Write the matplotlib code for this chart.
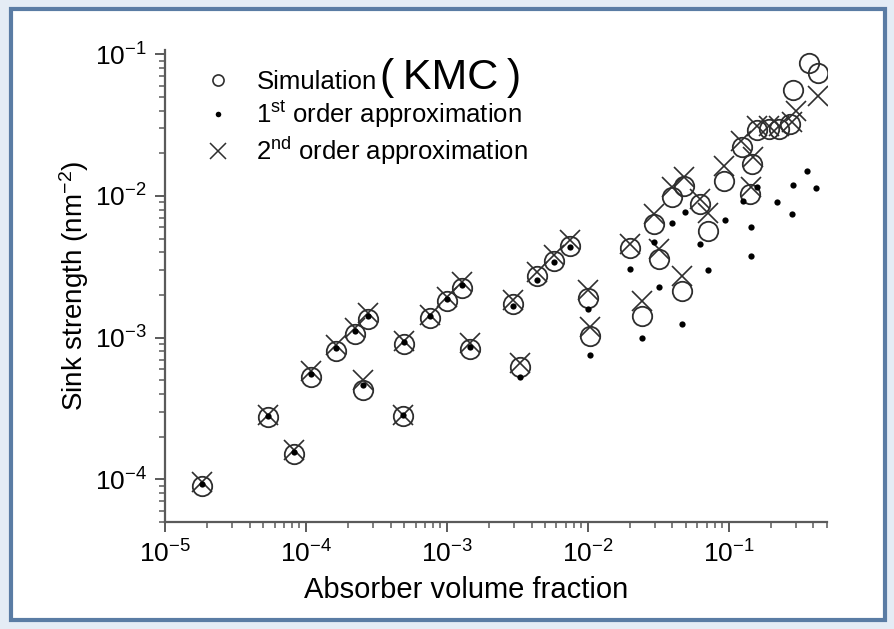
import matplotlib
matplotlib.use("Agg")
import matplotlib.pyplot as plt
from matplotlib.lines import Line2D
from matplotlib.patches import Rectangle
from matplotlib.ticker import LogLocator, NullFormatter, FixedLocator

plt.rcParams['font.family'] = ['Liberation Sans', 'DejaVu Sans']
plt.rcParams['mathtext.fontset'] = 'custom'
plt.rcParams['mathtext.rm'] = 'Liberation Sans'
plt.rcParams['mathtext.it'] = 'Liberation Sans:italic'
plt.rcParams['mathtext.bf'] = 'Liberation Sans:bold'

# Simulation (KMC) results
sim_x = [1.82e-5, 5.4e-5, 8.3e-5, 1.08e-4, 1.63e-4, 2.23e-4, 2.77e-4, 2.55e-4,
         4.95e-4, 4.93e-4, 7.6e-4, 1.01e-3, 1.28e-3, 1.46e-3, 2.95e-3, 3.3e-3,
         4.4e-3, 5.8e-3, 7.5e-3, 1.0e-2, 1.04e-2, 2.0e-2, 2.44e-2, 2.95e-2,
         3.2e-2, 4.0e-2, 4.7e-2, 4.8e-2, 6.3e-2, 7.1e-2, 9.3e-2, 0.125,
         0.147, 0.143, 0.158, 0.194, 0.228, 0.275, 0.288, 0.37, 0.43]
sim_y = [9.0e-5, 2.75e-4, 1.52e-4, 5.3e-4, 8.1e-4, 1.06e-3, 1.36e-3, 4.3e-4,
         9.0e-4, 2.8e-4, 1.37e-3, 1.8e-3, 2.25e-3, 8.3e-4, 1.72e-3, 6.2e-4,
         2.7e-3, 3.5e-3, 4.4e-3, 1.9e-3, 1.02e-3, 4.3e-3, 1.41e-3, 6.3e-3,
         3.56e-3, 9.8e-3, 2.12e-3, 1.18e-2, 8.8e-3, 5.65e-3, 1.28e-2, 0.022,
         0.0168, 0.0103, 0.029, 0.0297, 0.0297, 0.032, 0.0556, 0.086, 0.074]

# First order approximation
first_x = [1.82e-5, 5.4e-5, 8.3e-5, 1.08e-4, 1.63e-4, 2.23e-4, 2.77e-4, 2.55e-4,
           4.95e-4, 4.93e-4, 7.6e-4, 1.01e-3, 1.28e-3, 1.46e-3, 2.95e-3, 3.3e-3,
           4.4e-3, 5.8e-3, 7.5e-3, 1.0e-2, 1.04e-2, 2.0e-2, 2.44e-2, 2.95e-2,
           3.2e-2, 4.0e-2, 4.7e-2, 4.9e-2, 6.3e-2, 7.2e-2, 9.5e-2, 0.127,
           0.145, 0.145, 0.158, 0.221, 0.283, 0.288, 0.363, 0.42]
first_y = [9.2e-5, 2.8e-4, 1.56e-4, 5.5e-4, 8.5e-4, 1.12e-3, 1.42e-3, 4.6e-4,
           9.3e-4, 2.85e-4, 1.42e-3, 1.87e-3, 2.35e-3, 8.6e-4, 1.66e-3, 5.3e-4,
           2.55e-3, 3.4e-3, 4.35e-3, 1.58e-3, 7.5e-4, 3.07e-3, 1.0e-3, 4.7e-3,
           2.26e-3, 6.4e-3, 1.24e-3, 7.7e-3, 4.6e-3, 3.0e-3, 6.8e-3, 9.2e-3,
           6.0e-3, 3.75e-3, 0.0115, 9.0e-3, 7.5e-3, 0.012, 0.015, 0.0113]

# Second order approximation
second_x = [1.82e-5, 5.4e-5, 8.3e-5, 1.08e-4, 1.63e-4, 2.23e-4, 2.77e-4, 2.55e-4,
            4.95e-4, 4.93e-4, 7.6e-4, 1.01e-3, 1.28e-3, 1.46e-3, 2.95e-3, 3.3e-3,
            4.4e-3, 5.8e-3, 7.5e-3, 1.0e-2, 1.04e-2, 2.0e-2, 2.44e-2, 2.95e-2,
            3.2e-2, 4.0e-2, 4.7e-2, 4.8e-2, 6.3e-2, 7.1e-2, 9.3e-2, 0.122,
            0.15, 0.145, 0.158, 0.194, 0.228, 0.28, 0.30, 0.43]
second_y = [9.5e-5, 2.85e-4, 1.6e-4, 5.8e-4, 8.8e-4, 1.16e-3, 1.48e-3, 5.0e-4,
            9.5e-4, 2.85e-4, 1.45e-3, 1.93e-3, 2.45e-3, 9.2e-4, 1.85e-3, 6.6e-4,
            2.9e-3, 3.8e-3, 4.9e-3, 2.15e-3, 1.18e-3, 4.6e-3, 1.8e-3, 7.4e-3,
            4.2e-3, 1.15e-2, 2.7e-3, 1.35e-2, 9.5e-3, 7.6e-3, 1.63e-2, 0.0245,
            0.0187, 0.0115, 0.031, 0.031, 0.031, 0.033, 0.04, 0.051]

x_ticks = [1e-5, 1e-4, 1e-3, 1e-2, 1e-1]
x_tick_labels = [r'$10^{-5}$', r'$10^{-4}$', r'$10^{-3}$', r'$10^{-2}$', r'$10^{-1}$']
y_ticks = [1e-4, 1e-3, 1e-2, 1e-1]
y_tick_labels = [r'$10^{-4}$', r'$10^{-3}$', r'$10^{-2}$', r'$10^{-1}$']

ink = '#2e2e2e'
axis_col = '#5a5a5a'

fig = plt.figure(figsize=(8.95, 6.29), dpi=100)
fig.patch.set_facecolor('#e4ecf5')
frame = Rectangle((11 / 895, 1 - 620 / 629), 874 / 895, 611 / 629,
                  transform=fig.transFigure, facecolor='white',
                  edgecolor='#5a7ca4', linewidth=3, zorder=-10)
fig.patches.append(frame)

ax = fig.add_axes([165 / 895, 1 - 522 / 629, 662 / 895, 472 / 629])
ax.set_facecolor('none')
ax.set_xscale('log')
ax.set_yscale('log')
ax.set_xlim(1e-5, 0.5)
ax.set_ylim(5e-5, 0.107)

ax.plot(sim_x, sim_y, linestyle='none', marker='o', markersize=14,
        markerfacecolor='none', markeredgecolor=ink, markeredgewidth=1.3)
ax.plot(second_x, second_y, linestyle='none', marker='x', markersize=14,
        color=ink, markeredgewidth=1.2)
ax.plot(first_x, first_y, linestyle='none', marker='o', markersize=4.5,
        color='black', markeredgewidth=0)

for side in ('top', 'right'):
    ax.spines[side].set_visible(False)
for side in ('left', 'bottom'):
    ax.spines[side].set_color(axis_col)
    ax.spines[side].set_linewidth(1.6)

ax.xaxis.set_major_locator(FixedLocator(x_ticks))
ax.set_xticklabels(x_tick_labels)
ax.yaxis.set_major_locator(FixedLocator(y_ticks))
ax.set_yticklabels(y_tick_labels)
ax.xaxis.set_minor_locator(LogLocator(base=10, subs=range(2, 10), numticks=20))
ax.yaxis.set_minor_locator(LogLocator(base=10, subs=range(2, 10), numticks=20))
ax.xaxis.set_minor_formatter(NullFormatter())
ax.yaxis.set_minor_formatter(NullFormatter())
ax.tick_params(which='major', direction='out', length=7, width=1.4,
               color=axis_col, labelsize=19, pad=6)
ax.tick_params(which='minor', direction='out', length=4, width=1.1,
               color=axis_col)

ax.set_xlabel('Absorber volume fraction', fontsize=21)
ax.xaxis.set_label_coords(0.455, -0.115)
ax.set_ylabel(r'Sink strength (nm$^{-2}$)', fontsize=20, labelpad=3)

handles = [
    Line2D([], [], linestyle='none', marker='o', markersize=8,
           markerfacecolor='none', markeredgecolor=ink, markeredgewidth=1.2),
    Line2D([], [], linestyle='none', marker='o', markersize=4,
           color='black', markeredgewidth=0),
    Line2D([], [], linestyle='none', marker='x', markersize=11,
           color=ink, markeredgewidth=1.1),
]
labels = ['Simulation', r'1$^{\mathrm{st}}$ order approximation',
          r'2$^{\mathrm{nd}}$ order approximation']
leg = ax.legend(handles, labels, loc='upper left', bbox_to_anchor=(0.045, 0.98),
                frameon=False, fontsize=18.5, handlelength=1.0,
                handletextpad=1.0, labelspacing=0.2, borderaxespad=0)

fig.canvas.draw()
sim_text = leg.get_texts()[0]
bb = sim_text.get_window_extent()
inv = fig.transFigure.inverted()
x0, y0 = inv.transform((bb.x1, (bb.y0 + bb.y1) / 2))
fig.text(x0 + 0.004, y0 + 0.006, '(\u2009KMC\u2009)', fontsize=31,
         va='center', ha='left')

fig.savefig('out.png', dpi=100)
